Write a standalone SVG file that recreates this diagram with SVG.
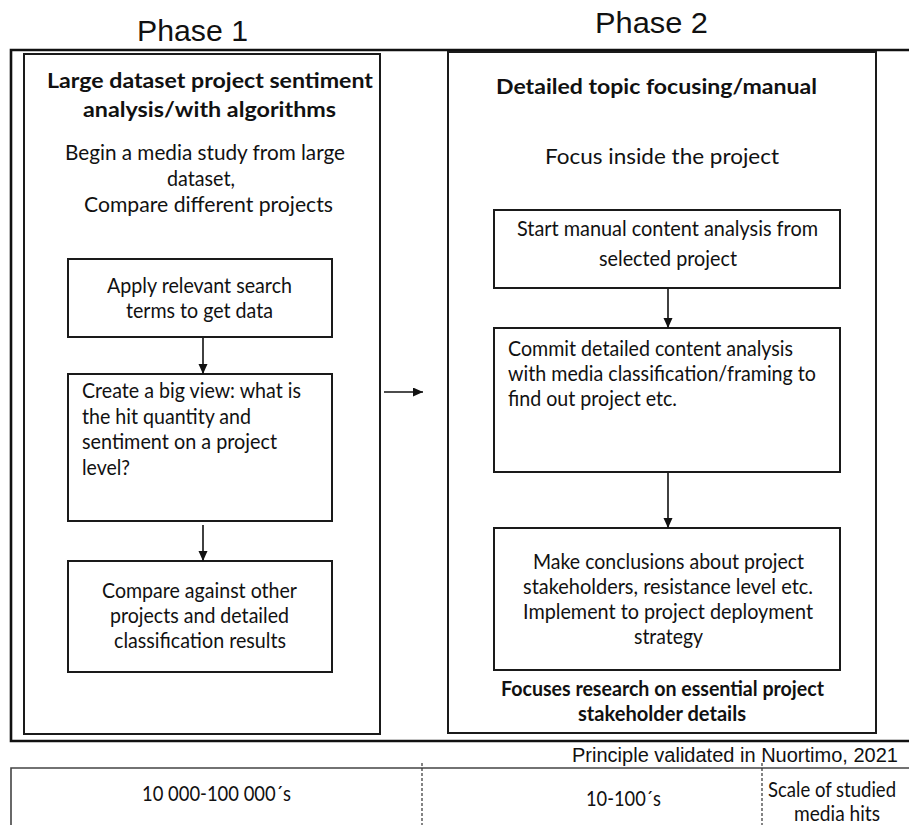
<svg xmlns="http://www.w3.org/2000/svg" width="909" height="825" viewBox="0 0 909 825">
<defs>
<style>
.t{font-family:Lato,"Liberation Sans",sans-serif;font-size:21px;fill:#111}
.b{font-family:Lato,"Liberation Sans",sans-serif;font-size:21px;font-weight:bold;fill:#111}
.a{font-family:"Liberation Sans",Arial,sans-serif;fill:#111}
.box{fill:#fff;stroke:#1a1a1a;stroke-width:2}
.con{stroke:#111;stroke-width:1.6;fill:none}
.dash{stroke:#333;stroke-width:1.2;stroke-dasharray:3 2;fill:none}
</style>
<marker id="ah" markerUnits="userSpaceOnUse" markerWidth="11" markerHeight="10" refX="10" refY="4.5" orient="auto">
<path d="M0,0 L10,4.5 L0,9 z" fill="#111"/>
</marker>
</defs>
<rect width="909" height="825" fill="#fff"/>

<g id="phase-titles">
<text class="a" x="137" y="41" font-size="30" textLength="111" lengthAdjust="spacingAndGlyphs">Phase 1</text>
<text class="a" x="595" y="33" font-size="30" textLength="113" lengthAdjust="spacingAndGlyphs">Phase 2</text>
</g>

<g id="outer-frame">
<path d="M909,50 L11,50 L11,741 L909,741" fill="none" stroke="#111" stroke-width="2.6"/>
</g>

<g id="phase1">
<rect class="box" x="24" y="54" width="356" height="680"/>
<text class="b" x="47" y="88" textLength="326" lengthAdjust="spacingAndGlyphs">Large dataset project sentiment</text>
<text class="b" x="83" y="117" textLength="253" lengthAdjust="spacingAndGlyphs">analysis/with algorithms</text>
<text class="t" x="65" y="160" textLength="280" lengthAdjust="spacingAndGlyphs">Begin a media study from large</text>
<text class="t" x="167" y="186" textLength="68" lengthAdjust="spacingAndGlyphs">dataset,</text>
<text class="t" x="84" y="212" textLength="249" lengthAdjust="spacingAndGlyphs">Compare different projects</text>
</g>

<g id="apply">
<rect class="box" x="68" y="259" width="264" height="78"/>
<text class="t" x="107" y="293" textLength="185" lengthAdjust="spacingAndGlyphs">Apply relevant search</text>
<text class="t" x="126" y="318" textLength="147" lengthAdjust="spacingAndGlyphs">terms to get data</text>
</g>

<g id="create">
<rect class="box" x="68" y="374" width="264" height="147"/>
<text class="t" x="82" y="398" textLength="219" lengthAdjust="spacingAndGlyphs">Create a big view: what is</text>
<text class="t" x="82" y="424" textLength="169" lengthAdjust="spacingAndGlyphs">the hit quantity and</text>
<text class="t" x="82" y="449" textLength="195" lengthAdjust="spacingAndGlyphs">sentiment on a project</text>
<text class="t" x="82" y="475" textLength="48" lengthAdjust="spacingAndGlyphs">level?</text>
</g>

<g id="compare">
<rect class="box" x="68" y="561" width="264" height="111"/>
<text class="t" x="102" y="598" textLength="195" lengthAdjust="spacingAndGlyphs">Compare against other</text>
<text class="t" x="110" y="623" textLength="179" lengthAdjust="spacingAndGlyphs">projects and detailed</text>
<text class="t" x="114" y="648" textLength="172" lengthAdjust="spacingAndGlyphs">classification results</text>
</g>

<g id="phase2">
<rect class="box" x="448" y="52" width="428" height="681"/>
<text class="b" x="496" y="94" textLength="321" lengthAdjust="spacingAndGlyphs">Detailed topic focusing/manual</text>
<text class="t" x="545" y="164" textLength="234" lengthAdjust="spacingAndGlyphs">Focus inside the project</text>
<text class="b" x="501" y="696" textLength="323" lengthAdjust="spacingAndGlyphs">Focuses research on essential project</text>
<text class="b" x="578" y="721" textLength="168" lengthAdjust="spacingAndGlyphs">stakeholder details</text>
</g>

<g id="start">
<rect class="box" x="494" y="210" width="346" height="78"/>
<text class="t" x="517" y="236" textLength="301" lengthAdjust="spacingAndGlyphs">Start manual content analysis from</text>
<text class="t" x="599" y="266" textLength="138" lengthAdjust="spacingAndGlyphs">selected project</text>
</g>

<g id="commit">
<rect class="box" x="494" y="328" width="346" height="144"/>
<text class="t" x="508" y="356" textLength="285" lengthAdjust="spacingAndGlyphs">Commit detailed content analysis</text>
<text class="t" x="508" y="381" textLength="308" lengthAdjust="spacingAndGlyphs">with media classification/framing to</text>
<text class="t" x="508" y="406" textLength="169" lengthAdjust="spacingAndGlyphs">find out project etc.</text>
</g>

<g id="conclusions">
<rect class="box" x="494" y="528" width="346" height="142"/>
<text class="t" x="533" y="569" textLength="271" lengthAdjust="spacingAndGlyphs">Make conclusions about project</text>
<text class="t" x="523" y="594" textLength="290" lengthAdjust="spacingAndGlyphs">stakeholders, resistance level etc.</text>
<text class="t" x="523" y="619" textLength="290" lengthAdjust="spacingAndGlyphs">Implement to project deployment</text>
<text class="t" x="634" y="644" textLength="69" lengthAdjust="spacingAndGlyphs">strategy</text>
</g>

<g id="connectors">
<line class="con" x1="203" y1="338" x2="203" y2="374" marker-end="url(#ah)"/>
<line class="con" x1="203" y1="525" x2="203" y2="561" marker-end="url(#ah)"/>
<line class="con" x1="384" y1="392" x2="423" y2="392" marker-end="url(#ah)"/>
<line class="con" x1="668" y1="289" x2="668" y2="328" marker-end="url(#ah)"/>
<line class="con" x1="668" y1="473" x2="668" y2="528" marker-end="url(#ah)"/>
</g>

<g id="validation">
<text class="a" x="572" y="762" font-size="19.5" textLength="326" lengthAdjust="spacingAndGlyphs">Principle validated in Nuortimo, 2021</text>
</g>

<g id="scale-table">
<path d="M11,825 L11,768 L909,768" fill="none" stroke="#444" stroke-width="1.6"/>
<line class="dash" x1="422" y1="763" x2="422" y2="825"/>
<line class="dash" x1="762" y1="763" x2="762" y2="825"/>
<text class="t" x="142" y="801" textLength="149" lengthAdjust="spacingAndGlyphs">10 000-100 000´s</text>
<text class="t" x="586" y="806" textLength="75" lengthAdjust="spacingAndGlyphs">10-100´s</text>
<text class="t" x="768" y="797" font-size="18" textLength="128" lengthAdjust="spacingAndGlyphs">Scale of studied</text>
<text class="t" x="794" y="821" font-size="19" textLength="86" lengthAdjust="spacingAndGlyphs">media hits</text>
</g>
</svg>
